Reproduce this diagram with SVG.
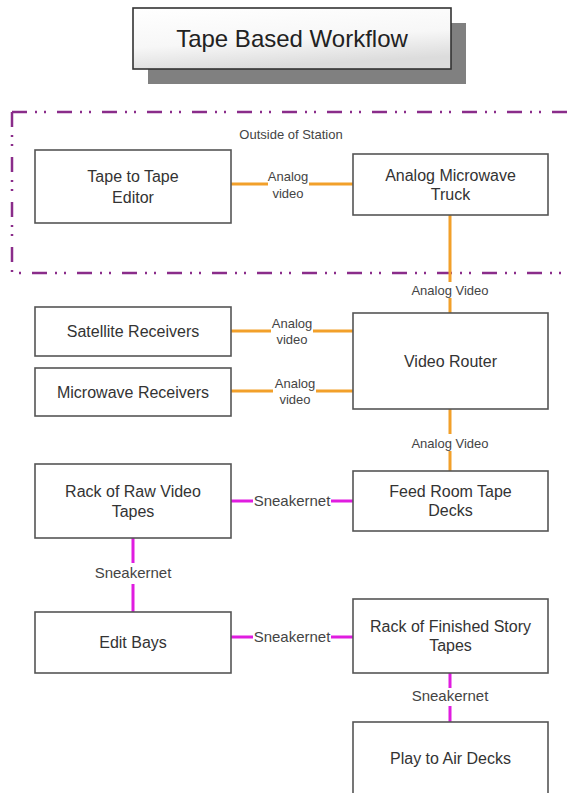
<svg xmlns="http://www.w3.org/2000/svg" width="570" height="793" viewBox="0 0 570 793">
<defs>
<linearGradient id="tg" x1="0" y1="0" x2="0.3" y2="1">
<stop offset="0" stop-color="#ffffff"/>
<stop offset="0.6" stop-color="#f7f7f7"/>
<stop offset="1" stop-color="#dcdcdc"/>
</linearGradient>
<style>
.box{fill:#fff;stroke:#555;stroke-width:1.6}
.t{font-family:"Liberation Sans",Arial,sans-serif;font-size:16px;fill:#333;text-anchor:middle}
.lbl{font-family:"Liberation Sans",Arial,sans-serif;font-size:13px;fill:#444;text-anchor:middle}
.slbl{font-family:"Liberation Sans",Arial,sans-serif;font-size:15px;fill:#444;text-anchor:middle}
.or{stroke:#F2A02A;stroke-width:3;fill:none}
.mg{stroke:#E01CE0;stroke-width:3;fill:none}
.bd{stroke:#8A2C8A;stroke-width:2.5;fill:none;stroke-dasharray:15 8 2 7 2 11}
</style>
</defs>
<rect width="570" height="793" fill="#fff"/>

<g id="title">
<rect x="148" y="23" width="318" height="61" fill="#808080"/>
<rect x="133" y="8" width="318" height="61" fill="url(#tg)" stroke="#333" stroke-width="1.6"/>
<text x="292" y="47" font-family="Liberation Sans,Arial,sans-serif" font-size="24" fill="#222" text-anchor="middle">Tape Based Workflow</text>
</g>

<g id="boundary">
<line class="bd" x1="12" y1="112" x2="575" y2="112"/>
<line class="bd" x1="12" y1="112" x2="12" y2="273"/>
<line class="bd" x1="12" y1="273" x2="575" y2="273" style="stroke-dashoffset:25"/>
<text class="lbl" x="291" y="138.5">Outside of Station</text>
</g>

<g id="connectors">
<path class="or" d="M231 184H268M309 184H353"/>
<text class="lbl" x="288" y="180.5">Analog</text>
<text class="lbl" x="288" y="197.5">video</text>

<path class="or" d="M450 215V282M450 298V313"/>
<text class="lbl" x="450" y="294.5">Analog Video</text>

<path class="or" d="M231 331H271M313 331H353"/>
<text class="lbl" x="292" y="327.5">Analog</text>
<text class="lbl" x="292" y="343.5">video</text>

<path class="or" d="M231 391H273M316 391H357"/>
<text class="lbl" x="295" y="387.5">Analog</text>
<text class="lbl" x="295" y="403.5">video</text>

<path class="or" d="M450 409V434M450 451V471"/>
<text class="lbl" x="450" y="447.5">Analog Video</text>

<path class="mg" d="M231 501H253M331 501H353"/>
<text class="slbl" x="292" y="506">Sneakernet</text>

<path class="mg" d="M133 538V563M133 584V612"/>
<text class="slbl" x="133" y="578">Sneakernet</text>

<path class="mg" d="M231 637H253M331 637H353"/>
<text class="slbl" x="292" y="642">Sneakernet</text>

<path class="mg" d="M450 673V688M450 706V722"/>
<text class="slbl" x="450" y="701">Sneakernet</text>
</g>

<g id="n-editor">
<rect class="box" x="35" y="150" width="196" height="73"/>
<text class="t" x="133" y="182">Tape to Tape</text>
<text class="t" x="133" y="203">Editor</text>
</g>
<g id="n-truck">
<rect class="box" x="353" y="154" width="195" height="61"/>
<text class="t" x="450.5" y="181">Analog Microwave</text>
<text class="t" x="450.5" y="200">Truck</text>
</g>
<g id="n-satellite">
<rect class="box" x="35" y="307" width="196" height="49"/>
<text class="t" x="133" y="337">Satellite Receivers</text>
</g>
<g id="n-router">
<rect class="box" x="353" y="313" width="195" height="96"/>
<text class="t" x="450.5" y="367">Video Router</text>
</g>
<g id="n-microwave">
<rect class="box" x="35" y="368" width="196" height="48"/>
<text class="t" x="133" y="398">Microwave Receivers</text>
</g>
<g id="n-rawrack">
<rect class="box" x="35" y="464" width="196" height="74"/>
<text class="t" x="133" y="497">Rack of Raw Video</text>
<text class="t" x="133" y="517">Tapes</text>
</g>
<g id="n-feedroom">
<rect class="box" x="353" y="471" width="195" height="60"/>
<text class="t" x="450.5" y="497">Feed Room Tape</text>
<text class="t" x="450.5" y="516">Decks</text>
</g>
<g id="n-editbays">
<rect class="box" x="35" y="612" width="196" height="61"/>
<text class="t" x="133" y="648">Edit Bays</text>
</g>
<g id="n-finished">
<rect class="box" x="353" y="599" width="195" height="74"/>
<text class="t" x="450.5" y="632">Rack of Finished Story</text>
<text class="t" x="450.5" y="651">Tapes</text>
</g>
<g id="n-playair">
<rect class="box" x="353" y="722" width="195" height="80"/>
<text class="t" x="450.5" y="764">Play to Air Decks</text>
</g>
</svg>
